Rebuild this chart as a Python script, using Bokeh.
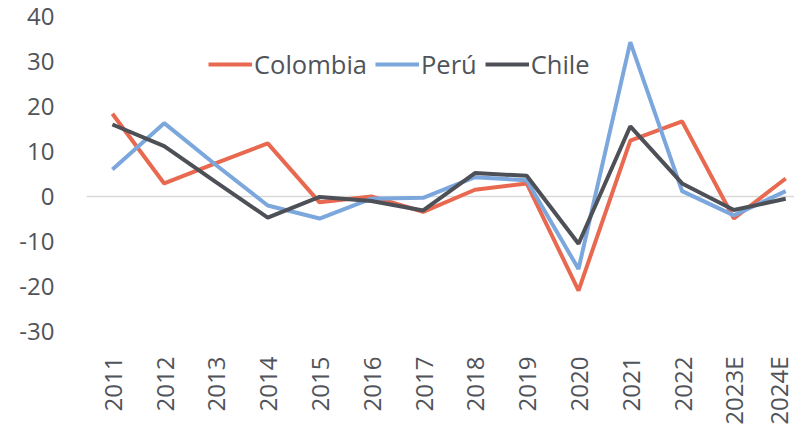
import math
from bokeh.plotting import figure
from bokeh.models import Range1d, FixedTicker, Legend, LegendItem, ColumnDataSource
from bokeh.embed import file_html
from bokeh.resources import INLINE

years = ["2011", "2012", "2013", "2014", "2015", "2016", "2017", "2018",
         "2019", "2020", "2021", "2022", "2023E", "2024E"]
colombia = [18.4, 2.9, 7.4, 11.8, -1.3, 0.0, -3.4, 1.5, 2.9, -20.9, 12.4, 16.7, -4.9, 4.0]
peru = [6.0, 16.3, 7.0, -2.0, -4.9, -0.5, -0.3, 4.3, 3.6, -16.1, 34.3, 1.2, -4.2, 1.2]
chile = [16.0, 11.2, 3.2, -4.7, -0.1, -1.0, -3.1, 5.2, 4.6, -10.5, 15.6, 2.9, -3.0, -0.5]
y_ticks = [-30, -20, -10, 0, 10, 20, 30, 40]

idx = list(range(len(years)))
src = ColumnDataSource(dict(x=idx, colombia=colombia, peru=peru, chile=chile))

FONT = "Open Sans"
TXT = "#50545a"

p = figure(width=794, height=431, output_backend="svg", toolbar_location=None,
           x_range=Range1d(-0.5, 13.17), y_range=Range1d(-32, 40.44),
           min_border_left=86, min_border_right=0, min_border_top=14, min_border_bottom=91)
p.outline_line_color = None
p.background_fill_color = "white"
p.border_fill_color = "white"

r1 = p.line("x", "colombia", source=src, line_color="#E8694F", line_width=4)
r2 = p.line("x", "peru", source=src, line_color="#7BA7DC", line_width=4)
r3 = p.line("x", "chile", source=src, line_color="#4D5056", line_width=4)

p.xgrid.visible = False
p.ygrid.ticker = FixedTicker(ticks=[0])
p.ygrid.grid_line_color = "#D9D9D9"
p.ygrid.grid_line_width = 1.5

p.yaxis.ticker = FixedTicker(ticks=y_ticks)
p.yaxis.major_label_overrides = {t: str(t) for t in y_ticks}
p.yaxis.axis_line_color = None
p.yaxis.major_tick_line_color = None
p.yaxis.minor_tick_line_color = None
p.yaxis.major_label_standoff = 26
p.yaxis.major_label_text_font = FONT
p.yaxis.major_label_text_font_size = "24px"
p.yaxis.major_label_text_color = TXT

p.xaxis.ticker = FixedTicker(ticks=idx)
p.xaxis.major_label_overrides = {i: y for i, y in enumerate(years)}
p.xaxis.major_label_orientation = math.pi / 2
p.xaxis.axis_line_color = None
p.xaxis.major_tick_line_color = None
p.xaxis.minor_tick_line_color = None
p.xaxis.major_label_standoff = 10
p.xaxis.major_label_text_font = FONT
p.xaxis.major_label_text_font_size = "24px"
p.xaxis.major_label_text_color = TXT

legend = Legend(items=[LegendItem(label="Colombia", renderers=[r1]),
                       LegendItem(label="Perú", renderers=[r2]),
                       LegendItem(label="Chile", renderers=[r3])],
                orientation="horizontal", location=(122, 259),
                glyph_width=44, glyph_height=20, label_standoff=2, spacing=8,
                padding=0, margin=0, border_line_color=None,
                background_fill_alpha=0,
                label_text_font=FONT, label_text_font_size="25.5px",
                label_text_color=TXT)
p.add_layout(legend)

open("out.html", "w").write(file_html(p, INLINE))
